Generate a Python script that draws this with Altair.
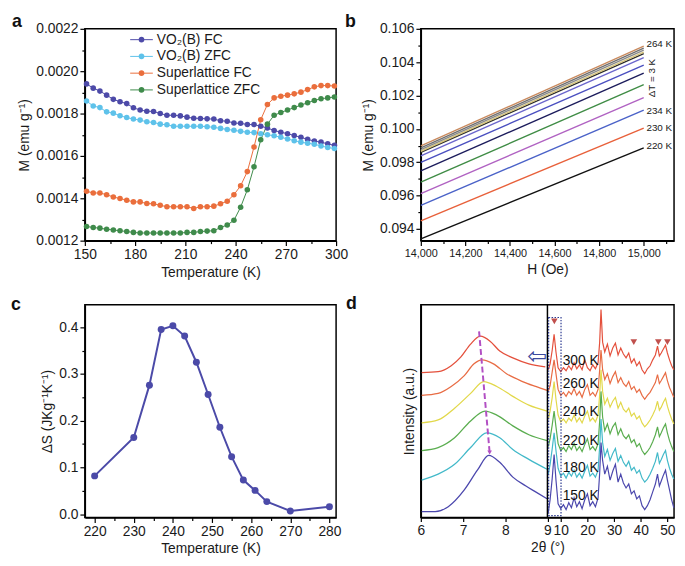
import altair as alt
import pandas as pd

FONT = "Liberation Sans"

# ---------------- panel a : M(T) ----------------
A_T = [151, 155, 159, 163, 167, 171, 175, 179, 183, 187, 191, 195, 199, 203, 207, 211, 215, 219, 223,
       227, 231, 235, 239, 243, 247, 251, 255, 259, 263, 267, 271, 275, 279, 283, 287, 291, 295, 299]
A_SERIES = ["VO₂(B) FC", "VO₂(B) ZFC", "Superlattice FC", "Superlattice ZFC"]
A_COLORS = ["#4d4aa8", "#5ec2ea", "#ea6e3c", "#3f8b4b"]
A_VO2_FC = [0.001940, 0.001920, 0.001906, 0.001887, 0.001867, 0.001856, 0.001847, 0.001827, 0.001817,
            0.001811, 0.001810, 0.001800, 0.001792, 0.001792, 0.001789, 0.001783, 0.001778, 0.001777,
            0.001775, 0.001774, 0.001766, 0.001764, 0.001755, 0.001754, 0.001748, 0.001748, 0.001740,
            0.001732, 0.001720, 0.001712, 0.001705, 0.001696, 0.001688, 0.001678, 0.001670, 0.001665,
            0.001657, 0.001650]
A_VO2_ZFC = [0.001859, 0.001836, 0.001828, 0.001808, 0.001802, 0.001790, 0.001781, 0.001774, 0.001769,
             0.001761, 0.001758, 0.001750, 0.001747, 0.001740, 0.001740, 0.001740, 0.001740, 0.001740,
             0.001738, 0.001735, 0.001730, 0.001725, 0.001721, 0.001716, 0.001712, 0.001710, 0.001705,
             0.001700, 0.001695, 0.001688, 0.001680, 0.001672, 0.001665, 0.001660, 0.001655, 0.001647,
             0.001640, 0.001635]
A_SL_FC = [0.001433, 0.001425, 0.001425, 0.001417, 0.001406, 0.001399, 0.001391, 0.001383, 0.001383,
           0.001375, 0.001374, 0.001367, 0.001360, 0.001360, 0.001360, 0.001360, 0.001352, 0.001360,
           0.001360, 0.001363, 0.001374, 0.001386, 0.001417, 0.001459, 0.001526, 0.001642, 0.001771,
           0.001843, 0.001874, 0.001882, 0.001887, 0.001893, 0.001901, 0.001913, 0.001926, 0.001932,
           0.001932, 0.001930]
A_SL_ZFC = [0.001267, 0.001262, 0.001259, 0.001254, 0.001250, 0.001247, 0.001243, 0.001239, 0.001236,
            0.001236, 0.001236, 0.001236, 0.001236, 0.001236, 0.001236, 0.001239, 0.001239, 0.001243,
            0.001245, 0.001247, 0.001262, 0.001274, 0.001296, 0.001358, 0.001440, 0.001549, 0.001676,
            0.001750, 0.001792, 0.001805, 0.001817, 0.001828, 0.001840, 0.001851, 0.001862, 0.001870,
            0.001874, 0.001878]
A_XTICKS = [150, 165, 180, 195, 210, 225, 240, 255, 270, 285, 300]
A_YTICKS = [0.0012, 0.0013, 0.0014, 0.0015, 0.0016, 0.0017, 0.0018, 0.0019, 0.0020, 0.0021, 0.0022]
A_LEG_ROW = [11, 28, 45, 62]

# ---------------- panel b : M(H) ----------------
B_H = [14000, 15000]
B_T = ["220 K", "230 K", "234 K", "237 K", "240 K", "243 K", "246 K", "249 K", "252 K", "255 K",
       "258 K", "261 K", "264 K"]
B_START = [0.09341, 0.09449, 0.09541, 0.09612, 0.09681, 0.09748, 0.09799, 0.09838, 0.09860, 0.09866,
           0.09876, 0.09886, 0.09898]
B_END = [0.09886, 0.10004, 0.10112, 0.10187, 0.10265, 0.10334, 0.10383, 0.10427, 0.10452, 0.10461,
         0.10472, 0.10484, 0.10496]
B_COLORS = ["#111111", "#e8603a", "#4a62c8", "#b062c2", "#3f8c45", "#1c1c5c", "#4a4fc0", "#6b66cc",
            "#2a2a2a", "#d6c47a", "#8a8a8a", "#707070", "#c98a5e"]
B_XTICKS = [14000, 14100, 14200, 14300, 14400, 14500, 14600, 14700, 14800, 14900, 15000, 15100]
B_YTICKS = [0.094, 0.095, 0.096, 0.097, 0.098, 0.099, 0.100, 0.101, 0.102, 0.103, 0.104, 0.105, 0.106]
B_LABELS = ["264 K", "234 K", "230 K", "220 K"]
B_LABEL_M = [0.10511, 0.10108, 0.10004, 0.09896]

# ---------------- panel c : dS(T) ----------------
C_T = [220, 230, 234, 237, 240, 243, 246, 249, 252, 255, 258, 261, 264, 270, 280]
C_DS = [0.082, 0.164, 0.276, 0.395, 0.403, 0.381, 0.325, 0.256, 0.186, 0.123, 0.073, 0.051, 0.027,
        0.007, 0.016]
C_XTICKS = [220, 225, 230, 235, 240, 245, 250, 255, 260, 265, 270, 275, 280]
C_YTICKS = [0.0, 0.05, 0.1, 0.15, 0.2, 0.25, 0.3, 0.35, 0.4, 0.45]

# ---------------- panel d : XRD (broken 2-theta axis) ----------------
D_TEMPS = ["300 K", "260 K", "240 K", "220 K", "180 K", "150 K"]
D_COLORS = ["#e4503c", "#e86c44", "#e2d84a", "#5aad4f", "#42b9c9", "#4b47ad"]
D_LABEL_H = [159, 135, 107, 78, 50, 22]
D_XTICKS_L = [6, 7, 8, 9]
D_XTICKS_R = [10, 20, 30, 40, 50]
D_LEFT_RANGE = [6, 9]
D_RIGHT_RANGE = [5, 52.5]

DL_X = {
    "300 K": [6.02, 6.41, 6.72, 6.95, 7.18, 7.41, 7.64, 7.87, 8.18, 8.56, 8.95],
    "260 K": [6.02, 6.41, 6.72, 7.03, 7.26, 7.45, 7.72, 8.03, 8.41, 8.72, 8.99],
    "240 K": [6.02, 6.41, 6.80, 7.18, 7.49, 7.80, 8.18, 8.56, 8.99],
    "220 K": [6.02, 6.41, 6.80, 7.18, 7.52, 7.80, 8.18, 8.56, 8.99],
    "180 K": [6.02, 6.41, 6.80, 7.18, 7.56, 7.87, 8.18, 8.56, 8.99],
    "150 K": [6.02, 6.34, 6.65, 7.03, 7.34, 7.61, 7.87, 8.18, 8.49, 8.72, 8.99],
}
DL_Y = {
    "300 K": [147, 148, 154, 163, 176, 184, 179, 169, 162, 156, 153],
    "260 K": [124, 126, 133, 144, 156, 160, 156, 146, 138, 133, 129],
    "240 K": [96, 99, 111, 126, 138, 133, 123, 114, 108],
    "220 K": [68, 71, 81, 98, 108, 104, 93, 84, 78],
    "180 K": [38, 44, 54, 71, 86, 81, 69, 59, 49],
    "150 K": [6, 6, 11, 28, 48, 63, 56, 41, 32, 26, 19],
}
DR_X = [5.3, 6.0, 6.8, 7.5, 8.2, 9.0, 10, 11, 12, 13, 14, 15, 16, 17, 18, 19, 20, 21, 22, 23, 24,
        24.6, 25.1, 25.7, 26.5, 27.5, 28.5, 29.5, 30.5, 31.5, 32.5, 33.5, 34.5, 35.5, 36.5, 37.5,
        38.5, 39.5, 40.5, 41.5, 42.5, 43.5, 44.5, 45.5, 46.3, 47.0, 47.7, 48.5, 49.3, 50.0, 50.8,
        51.6, 52.4]
DR_Y = {
    "300 K": [150, 156, 170, 186, 168, 152, 148, 152, 149, 154, 150, 157, 151, 155, 150, 160, 152, 149,
              155, 151, 157, 178, 211, 178, 168, 176, 164, 172, 177, 165, 172, 166, 162, 167, 157, 161,
              154, 158, 150, 146, 151, 154, 160, 165, 174, 164, 167, 171, 175, 167, 160, 154, 150],
    "260 K": [128, 134, 148, 160, 146, 130, 124, 127, 123, 128, 125, 131, 124, 128, 122, 130, 135, 124,
              127, 123, 130, 150, 170, 150, 140, 146, 136, 143, 148, 137, 142, 136, 133, 138, 130, 133,
              127, 130, 124, 120, 124, 127, 132, 137, 145, 136, 139, 143, 147, 139, 132, 127, 122],
    "240 K": [100, 108, 122, 138, 120, 104, 97, 100, 96, 101, 98, 104, 97, 101, 96, 103, 108, 98,
              101, 97, 104, 125, 150, 128, 115, 121, 112, 118, 122, 111, 117, 110, 107, 111, 103, 106,
              100, 103, 96, 92, 95, 99, 104, 110, 118, 109, 112, 117, 121, 113, 106, 100, 95],
    "220 K": [72, 80, 94, 108, 92, 75, 68, 71, 67, 73, 69, 75, 68, 72, 67, 74, 80, 69,
              72, 68, 75, 98, 128, 102, 88, 95, 85, 92, 96, 84, 90, 83, 80, 84, 76, 79,
              72, 75, 68, 64, 67, 71, 77, 84, 92, 82, 86, 91, 95, 86, 78, 72, 67],
    "180 K": [44, 54, 70, 86, 68, 50, 42, 45, 40, 46, 42, 48, 41, 45, 40, 47, 53, 42,
              45, 41, 48, 72, 100, 76, 62, 69, 58, 65, 70, 57, 63, 56, 52, 57, 48, 51,
              45, 48, 40, 36, 39, 44, 50, 57, 66, 55, 59, 64, 68, 58, 50, 44, 39],
    "150 K": [5, 18, 40, 64, 38, 14, 9, 13, 8, 15, 10, 20, 11, 16, 9, 18, 24, 12,
              16, 11, 20, 45, 76, 58, 44, 52, 38, 47, 54, 36, 44, 35, 30, 34, 24, 27,
              19, 22, 12, 8, 12, 18, 26, 34, 44, 32, 37, 43, 48, 38, 28, 18, 10],
}
D_SHIFT_X = [7.38, 7.63]
D_SHIFT_Y = [189, 66]
D_TRI_X = [7.6, 37.4, 46.6, 50.0]
D_TRI_Y = [199, 178, 178, 178]
D_BOX = {"part": "R", "x": 5.45, "x2": 10.1, "y": 2, "y2": 203}


def tick_cond(test, major=5, minor=3):
    return {"condition": {"test": test, "value": major}, "value": minor}


def letter(txt, dx):
    return alt.TitleParams(txt, dx=dx, dy=12, offset=3, frame="group", anchor="start")


# ================= panel a =================
rows = []
for name, vals in zip(A_SERIES, [A_VO2_FC, A_VO2_ZFC, A_SL_FC, A_SL_ZFC]):
    for t, m in zip(A_T, vals):
        rows.append({"s": name, "T": t, "M": m})
df_a = pd.DataFrame(rows)
a_color = alt.Color("s:N", scale=alt.Scale(domain=A_SERIES, range=A_COLORS), legend=None)
a_x = alt.X("T:Q", scale=alt.Scale(domain=[150, 300], nice=False, zero=False),
            axis=alt.Axis(values=A_XTICKS, labelExpr="datum.value % 30 === 0 ? datum.label : ''",
                          tickSize=tick_cond("datum.value % 30 === 0"), title="Temperature (K)",
                          labelFontSize=14, titleFontSize=14, labelFlush=False, labelOverlap=False))
a_y = alt.Y("M:Q", scale=alt.Scale(domain=[0.0012, 0.0022], nice=False, zero=False),
            axis=alt.Axis(values=A_YTICKS,
                          labelExpr="round(datum.value*10000) % 2 === 0 ? format(datum.value, '.4f') : ''",
                          tickSize=tick_cond("round(datum.value*10000) % 2 === 0"),
                          title="M (emu g⁻¹)", labelFontSize=14, titleFontSize=14,
                          labelFlush=False, labelOverlap=False))
a_lines = alt.Chart(df_a).mark_line(strokeWidth=1).encode(x=a_x, y=a_y, color=a_color)
a_pts = alt.Chart(df_a).mark_circle(size=32, opacity=1).encode(x=a_x, y=a_y, color=a_color)
df_leg = pd.DataFrame({"s": A_SERIES, "yp": A_LEG_ROW})
leg_y = alt.Y("yp:Q", scale=None, axis=None)
a_leg_rule = alt.Chart(df_leg).mark_rule(strokeWidth=1).encode(
    x=alt.value(46), x2=alt.value(69), y=leg_y, color=a_color)
a_leg_pt = alt.Chart(df_leg).mark_circle(size=32, opacity=1).encode(
    x=alt.value(57.5), y=leg_y, color=a_color)
a_leg_tx = alt.Chart(df_leg).mark_text(align="left", baseline="middle", fontSize=14, font=FONT,
                                       color="#1a1a1a").encode(x=alt.value(73), y=leg_y, text="s:N")
panel_a = alt.layer(a_lines, a_pts, a_leg_rule, a_leg_pt, a_leg_tx).properties(
    width=255, height=215, title=letter("a", -74))

# ================= panel b =================
rows = []
for t, y0, y1 in zip(B_T, B_START, B_END):
    rows.append({"T": t, "H": B_H[0], "M": y0})
    rows.append({"T": t, "H": B_H[1], "M": y1})
df_b = pd.DataFrame(rows)
b_x = alt.X("H:Q", scale=alt.Scale(domain=[14000, 15136], nice=False, zero=False),
            axis=alt.Axis(values=B_XTICKS,
                          labelExpr="datum.value % 200 === 0 ? format(datum.value, ',') : ''",
                          tickSize=tick_cond("datum.value % 200 === 0"), title="H (Oe)",
                          labelFontSize=11, titleFontSize=14, labelFlush=False, labelOverlap=False))
b_y = alt.Y("M:Q", scale=alt.Scale(domain=[0.0933, 0.106], nice=False, zero=False),
            axis=alt.Axis(values=B_YTICKS,
                          labelExpr="round(datum.value*1000) % 2 === 0 ? format(datum.value, '.3f') : ''",
                          tickSize=tick_cond("round(datum.value*1000) % 2 === 0"),
                          title="M (emu g⁻¹)", labelFontSize=14, titleFontSize=14,
                          labelFlush=False, labelOverlap=False))
b_lines = alt.Chart(df_b).mark_line(strokeWidth=1.4).encode(
    x=b_x, y=b_y, color=alt.Color("T:N", scale=alt.Scale(domain=B_T, range=B_COLORS), legend=None),
    detail="T:N")
df_blab = pd.DataFrame({"H": [15012] * len(B_LABELS), "M": B_LABEL_M, "txt": B_LABELS})
b_lab = alt.Chart(df_blab).mark_text(align="left", baseline="middle", fontSize=10, font=FONT,
                                     color="#1a1a1a").encode(x=b_x, y=b_y, text="txt:N")
df_bdt = pd.DataFrame({"H": [15037], "M": [0.10305], "txt": ["ΔT = 3 K"]})
b_dt = alt.Chart(df_bdt).mark_text(align="center", baseline="middle", fontSize=10, font=FONT,
                                   angle=270, color="#1a1a1a").encode(x=b_x, y=b_y, text="txt:N")
panel_b = alt.layer(b_lines, b_lab, b_dt).properties(
    width=257, height=215, title=letter("b", -77))

# ================= panel c =================
df_c = pd.DataFrame({"T": C_T, "dS": C_DS})
c_x = alt.X("T:Q", scale=alt.Scale(domain=[217.5, 281.7], nice=False, zero=False),
            axis=alt.Axis(values=C_XTICKS, labelExpr="datum.value % 10 === 0 ? datum.label : ''",
                          tickSize=tick_cond("datum.value % 10 === 0"), title="Temperature (K)",
                          labelFontSize=14, titleFontSize=14, labelFlush=False, labelOverlap=False))
c_y = alt.Y("dS:Q", scale=alt.Scale(domain=[-0.007, 0.448], nice=False, zero=False),
            axis=alt.Axis(values=C_YTICKS,
                          labelExpr="round(datum.value*100) % 10 === 0 ? format(datum.value, '.1f') : ''",
                          tickSize=tick_cond("round(datum.value*100) % 10 === 0"),
                          title="ΔS (JKg⁻¹K⁻¹)", labelFontSize=14, titleFontSize=14,
                          labelFlush=False, labelOverlap=False))
c_line = alt.Chart(df_c).mark_line(strokeWidth=2, color="#4b4aa8").encode(x=c_x, y=c_y)
c_pts = alt.Chart(df_c).mark_circle(size=50, opacity=1, color="#4b4aa8").encode(x=c_x, y=c_y)
panel_c = alt.layer(c_line, c_pts).properties(
    width=255, height=216, title=letter("c", -75))

# ================= panel d =================
# display coordinate u: left zoom part 6..9 deg -> 0..3, right part 5..52.5 deg -> 3..6
U_EXPR = ("datum.part === 'L' ? (datum.x - {l0}) * 3 / ({l1} - {l0}) : "
          "3 + (datum.x - {r0}) * 3 / ({r1} - {r0})").format(
    l0=D_LEFT_RANGE[0], l1=D_LEFT_RANGE[1], r0=D_RIGHT_RANGE[0], r1=D_RIGHT_RANGE[1])
U2_EXPR = U_EXPR.replace("datum.x", "datum.x2")
tick_u = [(t - D_LEFT_RANGE[0]) * 3 / (D_LEFT_RANGE[1] - D_LEFT_RANGE[0]) for t in D_XTICKS_L] + \
         [3 + (t - D_RIGHT_RANGE[0]) * 3 / (D_RIGHT_RANGE[1] - D_RIGHT_RANGE[0]) for t in D_XTICKS_R]
label_expr = ("datum.value <= 3.0001 ? format(datum.value * ({l1} - {l0}) / 3 + {l0}, 'd') : "
              "format(round((datum.value - 3) * ({r1} - {r0}) / 3 + {r0}), 'd')").format(
    l0=D_LEFT_RANGE[0], l1=D_LEFT_RANGE[1], r0=D_RIGHT_RANGE[0], r1=D_RIGHT_RANGE[1])

d_color = alt.Color("T:N", scale=alt.Scale(domain=D_TEMPS, range=D_COLORS), legend=None)
d_x = alt.X("u:Q", scale=alt.Scale(domain=[0, 6], nice=False, zero=False),
            axis=alt.Axis(values=tick_u, labelExpr=label_expr, tickSize=4, title="2θ (°)",
                          labelFontSize=14, titleFontSize=14, labelFlush=False, labelOverlap=False))
d_y = alt.Y("y:Q", scale=alt.Scale(domain=[0, 216], nice=False, zero=False),
            axis=alt.Axis(title="Intensity (a.u.)", labels=False, ticks=False, titleFontSize=14,
                          titlePadding=4))

rows = []
for t in D_TEMPS:
    for x, y in zip(DL_X[t], DL_Y[t]):
        rows.append({"part": "L", "T": t, "x": x, "y": y})
df_dl = pd.DataFrame(rows)
rows = []
for t in D_TEMPS:
    for x, y in zip(DR_X, DR_Y[t]):
        rows.append({"part": "R", "T": t, "x": x, "y": y})
df_dr = pd.DataFrame(rows)

d_left = alt.Chart(df_dl).transform_calculate(u=U_EXPR).mark_line(
    strokeWidth=1.3, interpolate="monotone").encode(x=d_x, y=d_y, color=d_color, detail="T:N")
d_right = alt.Chart(df_dr).transform_calculate(u=U_EXPR).mark_line(strokeWidth=1.2).encode(
    x=d_x, y=d_y, color=d_color, detail="T:N")
d_sep = alt.Chart(pd.DataFrame({"u": [3]})).mark_rule(strokeWidth=1.5, color="black").encode(x=d_x)
df_shift = pd.DataFrame({"part": "L", "x": D_SHIFT_X, "y": D_SHIFT_Y})
d_shift = alt.Chart(df_shift).transform_calculate(u=U_EXPR).mark_line(
    strokeWidth=2, strokeDash=[6, 3], color="#b24fc3").encode(x=d_x, y=d_y)
d_head = alt.Chart(df_shift.iloc[[1]]).transform_calculate(u=U_EXPR).mark_point(
    shape="triangle-down", filled=True, size=22, opacity=1, color="#b24fc3").encode(x=d_x, y=d_y)
df_arrow = pd.DataFrame({"part": ["L"], "x": [8.76], "y": [163], "txt": ["⇦"]})
d_arrow = alt.Chart(df_arrow).transform_calculate(u=U_EXPR).mark_text(
    fontSize=24, font="DejaVu Sans", color="#3b4aa0", baseline="middle").encode(
    x=d_x, y=d_y, text="txt:N")
df_box = pd.DataFrame([D_BOX])
d_box = alt.Chart(df_box).transform_calculate(u=U_EXPR, u2=U2_EXPR).mark_rect(
    fillOpacity=0, stroke="#2b3990", strokeWidth=1.2, strokeDash=[1.5, 1.5]).encode(
    x=d_x, x2="u2:Q", y=d_y, y2="y2:Q")
df_tri = pd.DataFrame({"part": "R", "x": D_TRI_X, "y": D_TRI_Y})
d_tri = alt.Chart(df_tri).transform_calculate(u=U_EXPR).mark_point(
    shape="triangle-down", filled=True, size=45, opacity=1, color="#c0504d").encode(x=d_x, y=d_y)
df_dlab = pd.DataFrame({"part": "R", "x": [10.7] * len(D_TEMPS), "y": D_LABEL_H, "txt": D_TEMPS})
d_lab = alt.Chart(df_dlab).transform_calculate(u=U_EXPR).mark_text(
    align="left", baseline="middle", fontSize=14, font=FONT, color="#111111").encode(
    x=d_x, y=d_y, text="txt:N")
panel_d = alt.layer(d_left, d_right, d_sep, d_shift, d_head, d_arrow, d_box, d_tri, d_lab).properties(
    width=257, height=216, title=letter("d", -76))

# ================= layout =================
chart = alt.concat(panel_a, panel_b, panel_c, panel_d, columns=2,
                   spacing={"row": 65, "column": 86}, bounds="flush").resolve_scale(
    color="independent"
).properties(
    padding={"left": 2, "top": 0, "right": 0, "bottom": 0}
).configure_axis(
    labelFont=FONT, titleFont=FONT, domainColor="black", domainWidth=1.5, tickColor="black",
    tickWidth=1.2, labelColor="#1a1a1a", titleColor="#1a1a1a", titleFontWeight="normal", grid=False
).configure_view(stroke="black", strokeWidth=1.5).configure_title(
    font=FONT, fontSize=18, fontWeight="bold", anchor="start", color="#111111"
).configure_text(font=FONT)

chart.save("out.html", embed_options={"renderer": "svg", "actions": False})
